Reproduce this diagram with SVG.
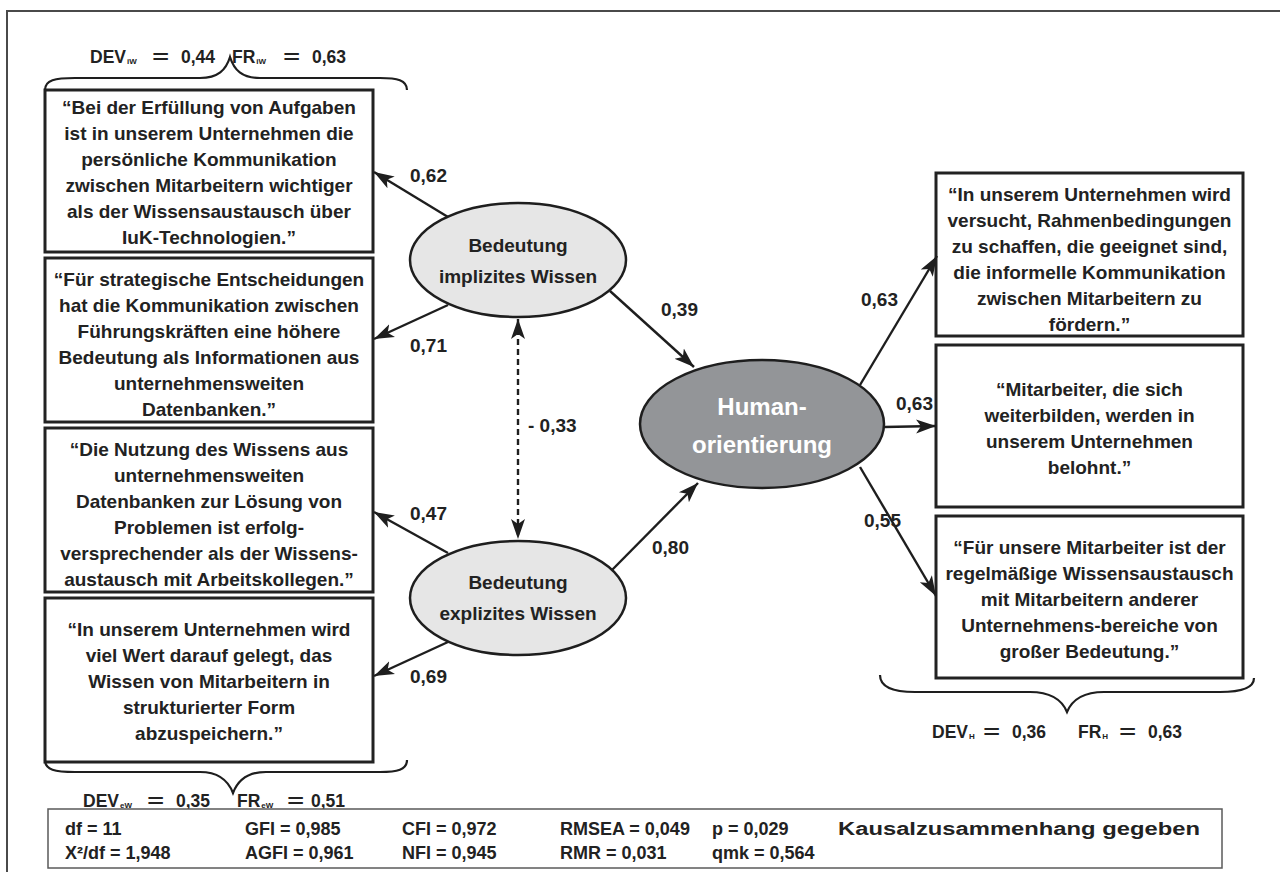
<svg xmlns="http://www.w3.org/2000/svg" width="1280" height="886" viewBox="0 0 1280 886">
  <style>
    .frame { fill: none; stroke: #4a4a4a; stroke-width: 2; }
    .box { fill: #ffffff; stroke: #222222; stroke-width: 3; }
    .latent { fill: #e6e6e6; stroke: #1e1e1e; stroke-width: 2.5; }
    .target { fill: #939598; stroke: #1e1e1e; stroke-width: 2.5; }
    .edge { fill: none; stroke: #1e1e1e; stroke-width: 2.4; }
    .dash { stroke-dasharray: 6 4; }
    .brace { fill: none; stroke: #1e1e1e; stroke-width: 2.2; }
    .t { font-family: "Liberation Sans", Arial, sans-serif; font-weight: bold; font-size: 19px; fill: #222222; text-anchor: middle; }
    .lbl { font-family: "Liberation Sans", Arial, sans-serif; font-weight: bold; font-size: 19px; fill: #222222; }
    .rel { font-family: "Liberation Sans", Arial, sans-serif; font-weight: bold; font-size: 17.5px; fill: #222222; }
    .sub { font-size: 8px; }
    .eq { font-family: "DejaVu Sans", sans-serif; font-weight: normal; font-size: 23px; }
    .human { font-family: "Liberation Sans", Arial, sans-serif; font-weight: bold; font-size: 24px; fill: #ffffff; text-anchor: middle; }
    .stat { font-family: "Liberation Sans", Arial, sans-serif; font-weight: bold; font-size: 18px; fill: #222222; }
    .statbox { fill: #ffffff; stroke: #5a5a5a; stroke-width: 1.5; }
  </style>
  <defs>
    <marker id="arrow" markerUnits="userSpaceOnUse" markerWidth="22" markerHeight="16" refX="20" refY="7" orient="auto-start-reverse" viewBox="0 0 22 14">
      <path d="M0,0 L20,7 L0,14 L5,7 z" fill="#1e1e1e"/>
    </marker>
  </defs>

  <rect width="1280" height="886" fill="#ffffff"/>
  <path class="frame" d="M7,872 V11 H1280"/>

  <!-- indicator boxes, left side -->
  <g id="item-iw1">
    <rect class="box" x="45" y="90" width="328" height="162"/>
    <text class="t" x="209" y="114">“Bei der Erfüllung von Aufgaben</text>
    <text class="t" x="209" y="140">ist in unserem Unternehmen die</text>
    <text class="t" x="209" y="166">persönliche Kommunikation</text>
    <text class="t" x="209" y="192">zwischen Mitarbeitern wichtiger</text>
    <text class="t" x="209" y="218">als der Wissensaustausch über</text>
    <text class="t" x="209" y="244">IuK-Technologien.”</text>
  </g>
  <g id="item-iw2">
    <rect class="box" x="45" y="258" width="328" height="164"/>
    <text class="t" x="209" y="286">“Für strategische Entscheidungen</text>
    <text class="t" x="209" y="312">hat die Kommunikation zwischen</text>
    <text class="t" x="209" y="338">Führungskräften eine höhere</text>
    <text class="t" x="209" y="364">Bedeutung als Informationen aus</text>
    <text class="t" x="209" y="390">unternehmensweiten</text>
    <text class="t" x="209" y="416">Datenbanken.”</text>
  </g>
  <g id="item-ew1">
    <rect class="box" x="45" y="428" width="328" height="164"/>
    <text class="t" x="209" y="456">“Die Nutzung des Wissens aus</text>
    <text class="t" x="209" y="482">unternehmensweiten</text>
    <text class="t" x="209" y="508">Datenbanken zur Lösung von</text>
    <text class="t" x="209" y="534">Problemen ist erfolg-</text>
    <text class="t" x="209" y="560">versprechender als der Wissens-</text>
    <text class="t" x="209" y="586">austausch mit Arbeitskollegen.”</text>
  </g>
  <g id="item-ew2">
    <rect class="box" x="45" y="598" width="328" height="164"/>
    <text class="t" x="209" y="636">“In unserem Unternehmen wird</text>
    <text class="t" x="209" y="662">viel Wert darauf gelegt, das</text>
    <text class="t" x="209" y="688">Wissen von Mitarbeitern in</text>
    <text class="t" x="209" y="714">strukturierter Form</text>
    <text class="t" x="209" y="740">abzuspeichern.”</text>
  </g>

  <!-- indicator boxes, right side -->
  <g id="item-h1">
    <rect class="box" x="936" y="173" width="307" height="163"/>
    <text class="t" x="1089.5" y="201">“In unserem Unternehmen wird</text>
    <text class="t" x="1089.5" y="227">versucht, Rahmenbedingungen</text>
    <text class="t" x="1089.5" y="253">zu schaffen, die geeignet sind,</text>
    <text class="t" x="1089.5" y="279">die informelle Kommunikation</text>
    <text class="t" x="1089.5" y="305">zwischen Mitarbeitern zu</text>
    <text class="t" x="1089.5" y="331">fördern.”</text>
  </g>
  <g id="item-h2">
    <rect class="box" x="936" y="345" width="307" height="162"/>
    <text class="t" x="1089.5" y="396">“Mitarbeiter, die sich</text>
    <text class="t" x="1089.5" y="422">weiterbilden, werden in</text>
    <text class="t" x="1089.5" y="448">unserem Unternehmen</text>
    <text class="t" x="1089.5" y="474">belohnt.”</text>
  </g>
  <g id="item-h3">
    <rect class="box" x="936" y="516" width="307" height="162"/>
    <text class="t" x="1089.5" y="554">“Für unsere Mitarbeiter ist der</text>
    <text class="t" x="1089.5" y="580">regelmäßige Wissensaustausch</text>
    <text class="t" x="1089.5" y="606">mit Mitarbeitern anderer</text>
    <text class="t" x="1089.5" y="632">Unternehmens-bereiche von</text>
    <text class="t" x="1089.5" y="658">großer Bedeutung.”</text>
  </g>

  <!-- connectors -->
  <g id="connectors">
    <line class="edge" x1="448" y1="217" x2="374" y2="172" marker-end="url(#arrow)"/>
    <line class="edge" x1="448" y1="305" x2="374" y2="339" marker-end="url(#arrow)"/>
    <line class="edge" x1="610" y1="291" x2="694" y2="367" marker-end="url(#arrow)"/>
    <line class="edge dash" x1="518" y1="319" x2="518" y2="539" marker-start="url(#arrow)" marker-end="url(#arrow)"/>
    <line class="edge" x1="448" y1="553" x2="374" y2="512" marker-end="url(#arrow)"/>
    <line class="edge" x1="448" y1="642" x2="374" y2="676" marker-end="url(#arrow)"/>
    <line class="edge" x1="612" y1="570" x2="698" y2="483" marker-end="url(#arrow)"/>
    <line class="edge" x1="860" y1="385" x2="937" y2="256" marker-end="url(#arrow)"/>
    <line class="edge" x1="884" y1="427" x2="936" y2="426" marker-end="url(#arrow)"/>
    <line class="edge" x1="860" y1="467" x2="936" y2="596" marker-end="url(#arrow)"/>

    <text class="lbl" x="410" y="182">0,62</text>
    <text class="lbl" x="410" y="352">0,71</text>
    <text class="lbl" x="661" y="316">0,39</text>
    <text class="lbl" x="528" y="432">- 0,33</text>
    <text class="lbl" x="410" y="520">0,47</text>
    <text class="lbl" x="410" y="683">0,69</text>
    <text class="lbl" x="652" y="554">0,80</text>
    <text class="lbl" x="861" y="306">0,63</text>
    <text class="lbl" x="896" y="410">0,63</text>
    <text class="lbl" x="864" y="527">0,55</text>
  </g>

  <!-- latent variables -->
  <g id="latent-iw">
    <ellipse class="latent" cx="518" cy="260" rx="108" ry="57"/>
    <text class="t" x="518" y="252">Bedeutung</text>
    <text class="t" x="518" y="283">implizites Wissen</text>
  </g>
  <g id="latent-ew">
    <ellipse class="latent" cx="518" cy="598" rx="108" ry="57"/>
    <text class="t" x="518" y="589">Bedeutung</text>
    <text class="t" x="518" y="620">explizites Wissen</text>
  </g>
  <g id="latent-h">
    <ellipse class="target" cx="762" cy="424" rx="122" ry="64"/>
    <text class="human" x="762" y="415">Human-</text>
    <text class="human" x="762" y="453">orientierung</text>
  </g>

  <!-- braces with reliability values -->
  <g id="brace-iw">
    <path class="brace" d="M45,90 C45,80 55,78 75,78 L200,78 C218,78 226,70 230,57 C234,70 242,78 260,78 L380,78 C397,78 407,80 407,90"/>
    <text class="rel"><tspan x="90" y="63">DEV</tspan><tspan class="sub" dx="1" y="64">iW</tspan><tspan class="eq" x="151" y="64">=</tspan><tspan x="181" y="63">0,44</tspan><tspan x="232" y="63">FR</tspan><tspan class="sub" dx="1" y="64">iW</tspan><tspan class="eq" x="282" y="64">=</tspan><tspan x="312" y="63">0,63</tspan></text>
  </g>
  <g id="brace-ew">
    <path class="brace" d="M45,760 C45,770 55,772 75,772 L200,772 C218,772 228,780 233,793 C238,780 248,772 266,772 L380,772 C397,772 407,770 407,760"/>
    <text class="rel"><tspan x="83" y="807">DEV</tspan><tspan class="sub" dx="1" y="808">eW</tspan><tspan class="eq" x="146" y="808">=</tspan><tspan x="176" y="807">0,35</tspan><tspan x="237" y="807">FR</tspan><tspan class="sub" dx="1" y="808">eW</tspan><tspan class="eq" x="286" y="808">=</tspan><tspan x="311" y="807">0,51</tspan></text>
  </g>
  <g id="brace-h">
    <path class="brace" d="M880,675 C880,688 895,692 915,692 L1030,692 C1050,692 1062,700 1067,712 C1072,700 1084,692 1104,692 L1220,692 C1240,692 1254,688 1254,678"/>
    <text class="rel"><tspan x="932" y="738">DEV</tspan><tspan class="sub" dx="1" y="739">H</tspan><tspan class="eq" x="982" y="739">=</tspan><tspan x="1012" y="738">0,36</tspan><tspan x="1078" y="738">FR</tspan><tspan class="sub" dx="1" y="739">H</tspan><tspan class="eq" x="1118" y="739">=</tspan><tspan x="1148" y="738">0,63</tspan></text>
  </g>

  <!-- model fit statistics -->
  <g id="fit-stats">
    <rect class="statbox" x="48" y="809" width="1174" height="59"/>
    <text class="stat" x="65" y="835">df = 11</text>
    <text class="stat" x="245" y="835">GFI = 0,985</text>
    <text class="stat" x="402" y="835">CFI = 0,972</text>
    <text class="stat" x="560" y="835">RMSEA = 0,049</text>
    <text class="stat" x="712" y="835">p = 0,029</text>
    <text class="stat" x="838" y="835" textLength="362" lengthAdjust="spacingAndGlyphs">Kausalzusammenhang gegeben</text>
    <text class="stat" x="65" y="859">X²/df = 1,948</text>
    <text class="stat" x="245" y="859">AGFI = 0,961</text>
    <text class="stat" x="402" y="859">NFI = 0,945</text>
    <text class="stat" x="560" y="859">RMR = 0,031</text>
    <text class="stat" x="712" y="859">qmk = 0,564</text>
  </g>
</svg>
